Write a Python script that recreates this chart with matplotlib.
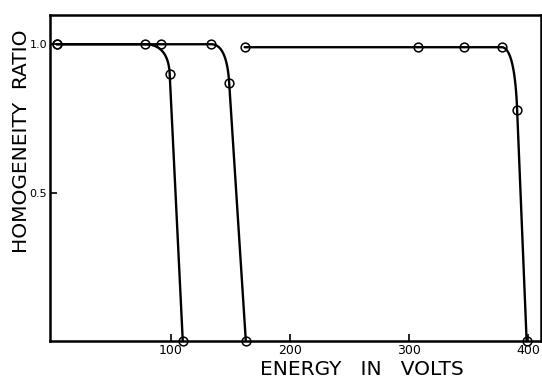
import numpy as np
import matplotlib
matplotlib.use("Agg")
import matplotlib.pyplot as plt

# measured points for the three runs (energy in volts, homogeneity ratio)
energy_a = [4, 78, 99, 110]
ratio_a = [1.0, 1.0, 0.90, 0.0]

energy_b = [4, 92, 134, 149, 163]
ratio_b = [1.0, 1.0, 1.0, 0.87, 0.0]

energy_c = [162, 308, 346, 378, 391, 399]
ratio_c = [0.99, 0.99, 0.99, 0.99, 0.78, 0.0]

x_ticks = [100, 200, 300, 400]
y_ticks = [0.5, 1.0]
y_tick_labels = ["0.5", "1.0"]


def curve_path(xs, ys):
    # flat run, rounded knee into the steep fall, then straight down to zero
    xs = np.asarray(xs, float)
    ys = np.asarray(ys, float)
    k = len(xs) - 3  # last flat point
    x0, y0 = xs[k], ys[k]
    x1, y1 = xs[k + 1], ys[k + 1]
    x2, y2 = xs[k + 2], ys[k + 2]
    slope = (y2 - y1) / (x2 - x1)
    cx = x1 + (y0 - y1) / slope
    t = np.linspace(0, 1, 60)
    bx = (1 - t) ** 2 * x0 + 2 * (1 - t) * t * cx + t ** 2 * x1
    by = (1 - t) ** 2 * y0 + 2 * (1 - t) * t * y0 + t ** 2 * y1
    px = np.concatenate([xs[:k], bx, [x2]])
    py = np.concatenate([ys[:k], by, [y2]])
    return px, py


fig = plt.figure(figsize=(5.42, 3.79), dpi=100)
ax = fig.add_axes([0.092, 0.100, 0.906, 0.860])

for xs, ys in [(energy_a, ratio_a), (energy_b, ratio_b), (energy_c, ratio_c)]:
    px, py = curve_path(xs, ys)
    ax.plot(px, py, color="black", lw=1.7, solid_capstyle="round")
    ax.plot(xs, ys, linestyle="none", marker="o", ms=6.3, mfc="none",
            mec="black", mew=1.1, clip_on=False)

ax.set_xlim(-1.7, 411)
ax.set_ylim(0, 1.098)

ax.set_xticks(x_ticks)
ax.set_xticklabels([str(v) for v in x_ticks], fontsize=9)
ax.set_yticks(y_ticks)
ax.set_yticklabels(y_tick_labels, fontsize=8)
ax.tick_params(axis="both", direction="in", length=5, width=1.2, pad=2)

for s in ax.spines.values():
    s.set_linewidth(1.8)

fig.text(0.039, 0.628, "HOMOGENEITY  RATIO", rotation=90, fontsize=14.5,
         ha="center", va="center", color="black")
fig.text(0.668, 0.024, "ENERGY   IN   VOLTS", fontsize=14.5,
         ha="center", va="center", color="black")

fig.savefig("out.png", dpi=100)
